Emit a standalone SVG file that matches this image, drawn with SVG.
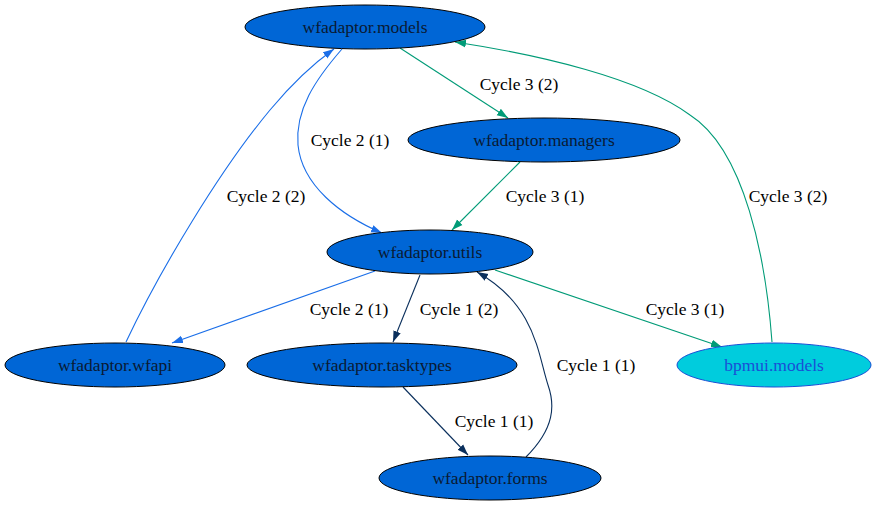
<svg xmlns="http://www.w3.org/2000/svg" width="875" height="505" viewBox="0 0 875 505">
<style>
.n ellipse{fill:#0066d6;stroke:#000;stroke-width:1}
.n text{font-family:"Liberation Serif","Times New Roman",serif;font-size:17.5px;fill:#0a1a33;text-anchor:middle}
.e path{fill:none;stroke-width:1.1}
.g{stroke:#009b77}
.b{stroke:#1a6ee8}
.k{stroke:#0a2f5c}
.l{font-family:"Liberation Serif","Times New Roman",serif;font-size:17.5px;fill:#000;text-anchor:middle}
</style>
<defs>
<marker id="mg" viewBox="0 0 10 10" refX="10" refY="5" markerWidth="11" markerHeight="11" markerUnits="userSpaceOnUse" orient="auto"><path d="M0,1.5 L10,5 L0,8.5 z" fill="#009b77"/></marker>
<marker id="mb" viewBox="0 0 10 10" refX="10" refY="5" markerWidth="11" markerHeight="11" markerUnits="userSpaceOnUse" orient="auto"><path d="M0,1.5 L10,5 L0,8.5 z" fill="#1a6ee8"/></marker>
<marker id="mk" viewBox="0 0 10 10" refX="10" refY="5" markerWidth="11" markerHeight="11" markerUnits="userSpaceOnUse" orient="auto"><path d="M0,1.5 L10,5 L0,8.5 z" fill="#0a2f5c"/></marker>
</defs>
<rect width="875" height="505" fill="#fff"/>
<g id="edges" class="e">
<path class="g" d="M400,48 L508,118" marker-end="url(#mg)"/>
<path class="g" d="M520,162 L452,230" marker-end="url(#mg)"/>
<path class="g" d="M495,270 L722,347" marker-end="url(#mg)"/>
<path class="g" d="M772,342 C766,260 745,150 690,115 C640,78 540,55 455,42" marker-end="url(#mg)"/>
<path class="b" d="M342,49 C315,80 295,110 298,145 C302,185 340,215 382,233" marker-end="url(#mb)"/>
<path class="b" d="M375,271 L172,343" marker-end="url(#mb)"/>
<path class="b" d="M126,342 C160,270 220,170 270,110 C290,86 310,66 334,49" marker-end="url(#mb)"/>
<path class="k" d="M420,275 L393,342" marker-end="url(#mk)"/>
<path class="k" d="M403,387 L468,455" marker-end="url(#mk)"/>
<path class="k" d="M526,457 C555,428 555,405 548,385 C538,355 536,305 477,272" marker-end="url(#mk)"/>
<text class="l" x="519" y="90">Cycle 3 (2)</text>
<text class="l" x="545" y="202">Cycle 3 (1)</text>
<text class="l" x="685" y="315">Cycle 3 (1)</text>
<text class="l" x="788" y="202">Cycle 3 (2)</text>
<text class="l" x="350" y="146">Cycle 2 (1)</text>
<text class="l" x="349" y="315">Cycle 2 (1)</text>
<text class="l" x="266" y="202">Cycle 2 (2)</text>
<text class="l" x="459" y="315">Cycle 1 (2)</text>
<text class="l" x="494" y="427">Cycle 1 (1)</text>
<text class="l" x="596" y="371">Cycle 1 (1)</text>
</g>
<g id="wfadaptor.models" class="n"><ellipse cx="365" cy="27" rx="120" ry="22"/><text x="365" y="33">wfadaptor.models</text></g>
<g id="wfadaptor.managers" class="n"><ellipse cx="544" cy="140" rx="136" ry="22"/><text x="544" y="146">wfadaptor.managers</text></g>
<g id="wfadaptor.utils" class="n"><ellipse cx="430" cy="252" rx="103" ry="22"/><text x="430" y="258">wfadaptor.utils</text></g>
<g id="wfadaptor.wfapi" class="n"><ellipse cx="115" cy="365" rx="110" ry="22"/><text x="115" y="371">wfadaptor.wfapi</text></g>
<g id="wfadaptor.tasktypes" class="n"><ellipse cx="382" cy="365" rx="135" ry="22"/><text x="382" y="371">wfadaptor.tasktypes</text></g>
<g id="bpmui.models" class="n"><ellipse cx="774" cy="365" rx="97" ry="22" style="fill:#00ccdd;stroke:#1a4fd6"/><text x="774" y="371" style="fill:#1a4fd6">bpmui.models</text></g>
<g id="wfadaptor.forms" class="n"><ellipse cx="490" cy="478" rx="111" ry="22"/><text x="490" y="484">wfadaptor.forms</text></g>
</svg>
